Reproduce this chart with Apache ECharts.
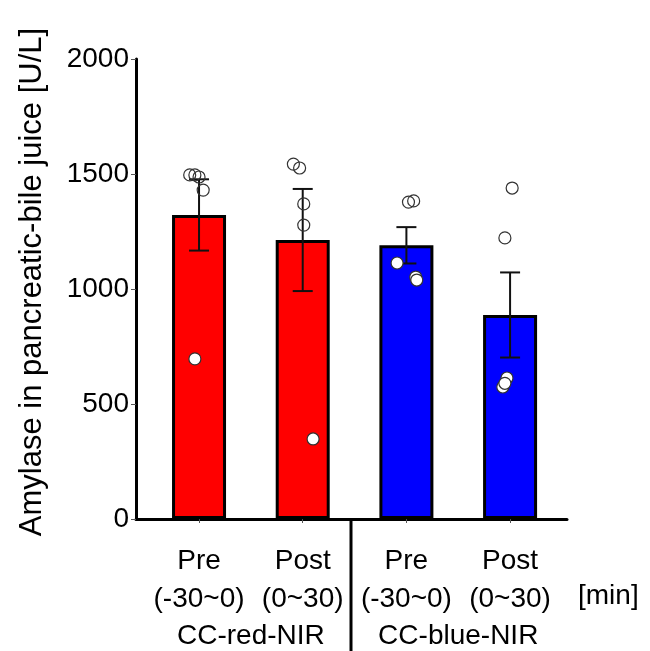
<!DOCTYPE html>
<html>
<head>
<meta charset="utf-8">
<script src="https://cdn.jsdelivr.net/npm/echarts@6/dist/echarts.min.js"></script>
<style>html,body{margin:0;padding:0;background:#fff}#c{width:650px;height:651px}</style>
</head>
<body>
<div id="c"></div>
<script>
// ---- data ----
const conditions = ['Pre', 'Post', 'Pre', 'Post'];
const periods = ['(-30~0)', '(0~30)', '(-30~0)', '(0~30)'];
const groups = ['CC-red-NIR', 'CC-blue-NIR'];
const unitLabel = '[min]';
const yTitle = 'Amylase in pancreatic-bile juice [U/L]';
const means = [1322, 1213, 1190, 887];
const sem = [155, 222, 79, 185];
const points = [
  [1496, 1496, 1487, 1430, 696],
  [1543, 1526, 1370, 1278, 348],
  [1378, 1383, 1113, 1052, 1039],
  [1439, 1222, 613, 574, 590]
];
const jitter = [
  [-0.09, -0.04, 0.0, 0.04, -0.04],
  [-0.09, -0.03, 0.01, 0.01, 0.1],
  [0.02, 0.07, -0.09, 0.09, 0.1],
  [0.02, -0.05, -0.03, -0.07, -0.05]
];
const yTicks = [0, 500, 1000, 1500, 2000];

// ---- styles ----
const barColors = ['#ff0000', '#ff0000', '#0000ff', '#0000ff'];
const FONT = 'Liberation Sans, Arial, sans-serif';

const chart = echarts.init(document.getElementById('c'));

const barData = means.map((m, i) => ({
  value: [i, m],
  itemStyle: { color: barColors[i] }
}));
const errData = means.map((m, i) => [i, m]);
const scatterData = [];
points.forEach((arr, i) => {
  arr.forEach((v, j) => {
    scatterData.push({
      value: [i + jitter[i][j], v],
      itemStyle: { color: v < means[i] ? '#ffffff' : 'rgba(255,255,255,0)' }
    });
  });
});

const xMin = -0.608, xMax = 3.549;

chart.setOption({
  animation: false,
  backgroundColor: '#fff',
  grid: { left: 136, right: 83, top: 59, bottom: 132, containLabel: false, outerBoundsMode: 'none' },
  xAxis: [{
    type: 'value', min: xMin, max: xMax,
    splitLine: { show: false },
    axisLine: { show: true, onZero: false, lineStyle: { color: '#000', width: 3 } },
    axisTick: { show: true, customValues: [0, 1, 2, 3], length: 4, lineStyle: { color: '#555', width: 1 } },
    axisLabel: {
      customValues: [0, 1, 2, 3],
      margin: 23,
      formatter: v => conditions[Math.round(v)] + '\n' + periods[Math.round(v)],
      fontFamily: FONT, fontSize: 28, color: '#000', lineHeight: 38
    }
  }, {
    type: 'value', min: xMin, max: xMax, position: 'bottom',
    splitLine: { show: false },
    axisLine: { show: false, onZero: false },
    axisTick: { show: false },
    axisLabel: {
      customValues: [0.5, 2.5],
      margin: 98,
      formatter: v => groups[Math.round(v - 0.5) / 2],
      fontFamily: FONT, fontSize: 28, color: '#000', lineHeight: 38
    }
  }],
  yAxis: {
    type: 'value', min: 0, max: 2000, interval: 500,
    name: yTitle, nameLocation: 'middle', nameGap: 88,
    nameTextStyle: { fontFamily: FONT, fontSize: 31, color: '#000', padding: [0, 0, 0, 14] },
    splitLine: { show: false },
    axisLine: { show: true, onZero: false, lineStyle: { color: '#000', width: 3 } },
    axisTick: { show: true, length: 5, lineStyle: { color: '#555', width: 1 } },
    axisLabel: { margin: 7, fontFamily: FONT, fontSize: 28, color: '#000',
      formatter: v => yTicks.includes(v) ? String(v) : '' }
  },
  series: [{
    type: 'bar',
    data: barData,
    barWidth: 54,
    itemStyle: { borderColor: '#000', borderWidth: 3 },
    z: 2
  }, {
    type: 'custom',
    data: errData,
    z: 3,
    renderItem: (params, api) => {
      const i = params.dataIndex;
      const lo = api.coord([i, means[i] - sem[i]]);
      const hi = api.coord([i, means[i] + sem[i]]);
      const w = 10;
      const st = { stroke: '#111', lineWidth: 2 };
      return {
        type: 'group',
        children: [
          { type: 'line', shape: { x1: lo[0], y1: lo[1], x2: hi[0], y2: hi[1] }, style: st },
          { type: 'line', shape: { x1: lo[0] - w, y1: lo[1], x2: lo[0] + w, y2: lo[1] }, style: st },
          { type: 'line', shape: { x1: hi[0] - w, y1: hi[1], x2: hi[0] + w, y2: hi[1] }, style: st }
        ]
      };
    }
  }, {
    type: 'scatter',
    data: scatterData,
    symbol: 'circle',
    symbolSize: 12,
    itemStyle: { borderColor: '#333', borderWidth: 1.2, opacity: 1 },
    z: 4
  }],
  graphic: [
    { type: 'line', shape: { x1: 351, y1: 519, x2: 351, y2: 651 }, style: { stroke: '#000', lineWidth: 3 } },
    { type: 'text', left: 578, top: 582, style: { text: unitLabel, fontFamily: FONT, fontSize: 28, fill: '#000' } }
  ]
});
</script>
</body>
</html>
